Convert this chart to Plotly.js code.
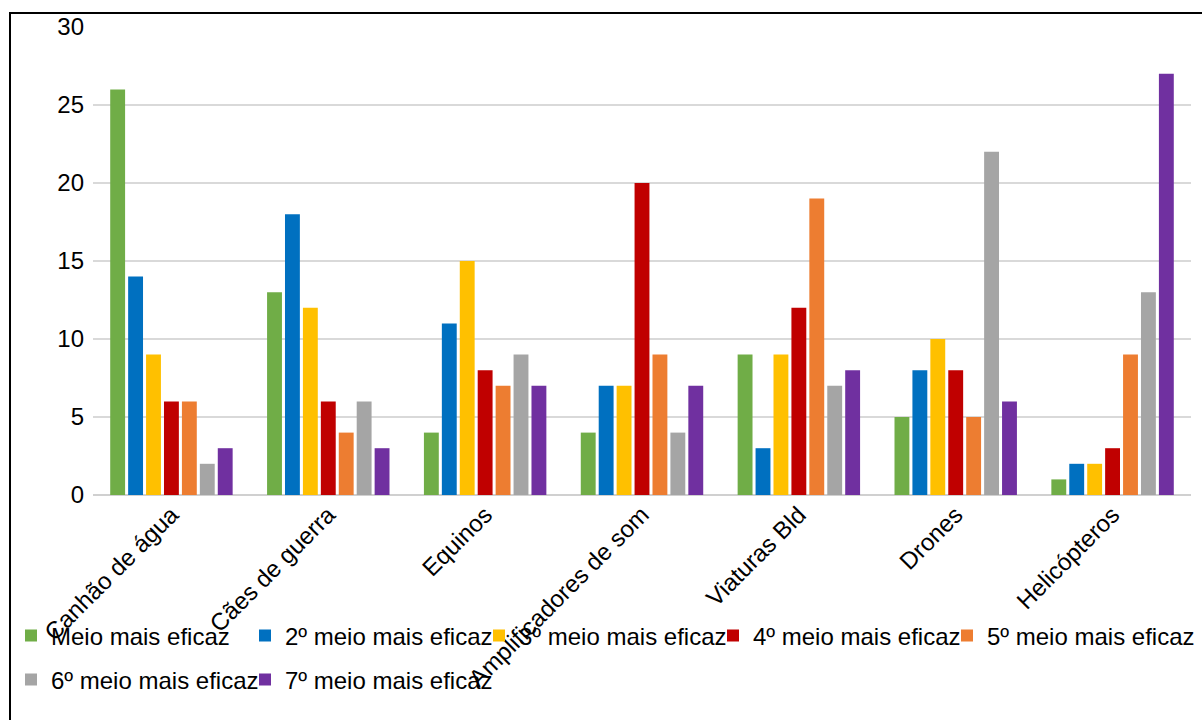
<!DOCTYPE html>
<html>
<head>
<meta charset="utf-8">
<script src="https://cdn.plot.ly/plotly-3.0.1.min.js"></script>
<style>
html,body{margin:0;padding:0;background:#fff;overflow:hidden;}
#chart{width:1202px;height:720px;position:absolute;left:0;top:0;}
#frame{position:absolute;left:9px;top:12px;width:1400px;height:900px;border-left:2.5px solid #000;border-top:2.5px solid #000;pointer-events:none;}
</style>
</head>
<body>
<div id="chart"></div>
<div id="frame"></div>
<script>
const categories = ["Canhão de água", "Cães de guerra", "Equinos", "Amplificadores de som", "Viaturas Bld", "Drones", "Helicópteros"];
const seriesNames = ["Meio mais eficaz", "2º meio mais eficaz", "3º meio mais eficaz", "4º meio mais eficaz", "5º meio mais eficaz", "6º meio mais eficaz", "7º meio mais eficaz"];
const s1 = [26, 13, 4, 4, 9, 5, 1];
const s2 = [14, 18, 11, 7, 3, 8, 2];
const s3 = [9, 12, 15, 7, 9, 10, 2];
const s4 = [6, 6, 8, 20, 12, 8, 3];
const s5 = [6, 4, 7, 9, 19, 5, 9];
const s6 = [2, 6, 9, 4, 7, 22, 13];
const s7 = [3, 3, 7, 7, 8, 6, 27];
const yTicks = [0, 5, 10, 15, 20, 25, 30];

const colors = ["#70AD47", "#0070C0", "#FFC000", "#C00000", "#ED7D31", "#A5A5A5", "#7030A0"];
const allSeries = [s1, s2, s3, s4, s5, s6, s7];
const legendIds = ["legend", "legend2", "legend3", "legend4", "legend5", "legend6", "legend7"];
// legend slot: [column, row]
const legendSlots = [[0, 0], [1, 0], [2, 0], [3, 0], [4, 0], [0, 1], [1, 1]];

const traces = allSeries.map((vals, i) => ({
  type: "bar",
  name: seriesNames[i],
  x: categories,
  y: vals,
  marker: {color: colors[i]},
  legend: legendIds[i],
  hoverinfo: "x+y+name"
}));

const font = {family: "Liberation Sans, Arial, sans-serif", size: 24, color: "#000"};

const layout = {
  width: 1202, height: 720,
  margin: {l: 93, r: 11, t: 27, b: 225},
  paper_bgcolor: "#fff", plot_bgcolor: "#fff",
  font: font,
  barmode: "group",
  bargap: 0.2,
  bargroupgap: 0.17,
  showlegend: true,
  xaxis: {
    type: "category",
    tickangle: -45,
    tickfont: font,
    showgrid: false,
    zeroline: false,
    showline: false,
    ticks: ""
  },
  yaxis: {
    range: [0, 30],
    tickvals: yTicks,
    ticktext: yTicks.map(String),
    tickfont: font,
    gridcolor: "#D9D9D9",
    gridwidth: 2,
    zeroline: true,
    zerolinecolor: "#D0D0D0",
    zerolinewidth: 2,
    showline: false,
    ticks: "",
    ticklabelstandoff: 8
  }
};

legendIds.forEach((id, i) => {
  const [col, row] = legendSlots[i];
  layout[id] = {
    orientation: "h",
    xref: "container", yref: "container",
    xanchor: "left", yanchor: "middle",
    x: (11 + col * 234) / 1202,
    y: 1 - (636 + row * 44) / 720,
    font: {family: font.family, size: 24, color: "#000"},
    bgcolor: "rgba(0,0,0,0)",
    itemclick: false, itemdoubleclick: false
  };
});

Plotly.newPlot("chart", traces, layout, {displayModeBar: false, staticPlot: true});
</script>
</body>
</html>
